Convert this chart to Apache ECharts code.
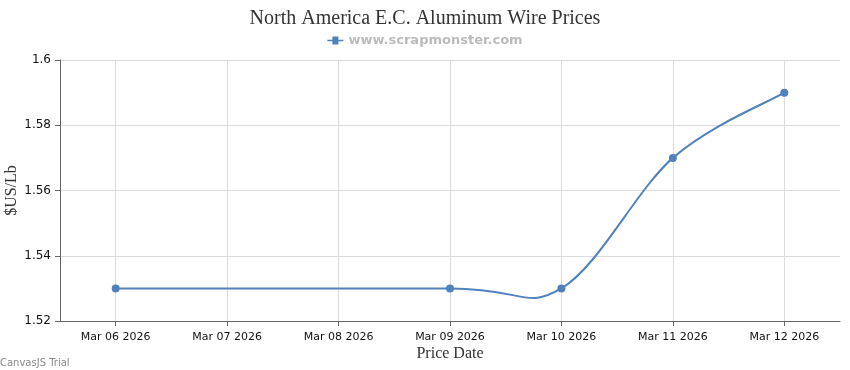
<!DOCTYPE html>
<html>
<head>
<meta charset="utf-8">
<script src="https://cdn.jsdelivr.net/npm/echarts@6/dist/echarts.min.js"></script>
<style>html,body{margin:0;padding:0;background:#fff}#c{width:850px;height:370px}</style>
</head>
<body>
<div id="c"></div>
<script>
var titleText = 'North America E.C. Aluminum Wire Prices';
var seriesName = 'www.scrapmonster.com';
var dates = ['2026-03-06', '2026-03-09', '2026-03-10', '2026-03-11', '2026-03-12'];
var prices = [1.53, 1.53, 1.53, 1.57, 1.59];
var axisStart = '2026-03-05T12:00:00';
var axisEnd = '2026-03-12T12:00:00';
var yMin = 1.52, yMax = 1.6, yStep = 0.02;
var monthNames = ['Jan','Feb','Mar','Apr','May','Jun','Jul','Aug','Sep','Oct','Nov','Dec'];

function parseLocal(s) {
  var p = s.split(/[-T:]/).map(Number);
  return new Date(p[0], p[1] - 1, p[2], p[3] || 0, p[4] || 0, p[5] || 0).getTime();
}
var points = dates.map(function (d, i) { return [parseLocal(d), prices[i]]; });
var DAY = 86400000;
var LINE_COLOR = '#4f81bc';
var GRID_COLOR = '#dcdcdc';
var TENSION = 2;

// spline segment from point i to i+1 (cardinal spline, computed in pixel space via the axis scales)
function renderSegment(params, api) {
  var i = params.dataIndex;
  var n = points.length;
  if (i >= n - 1) return null;
  var px = points.map(function (p) { return api.coord(p); });
  function drv(k) {
    var a = px[Math.max(k - 1, 0)], b = px[Math.min(k + 1, n - 1)];
    return [(b[0] - a[0]) / TENSION, (b[1] - a[1]) / TENSION];
  }
  var d1 = drv(i), d2 = drv(i + 1);
  var p1 = px[i], p2 = px[i + 1];
  return {
    type: 'bezierCurve',
    shape: {
      x1: p1[0], y1: p1[1],
      cpx1: p1[0] + d1[0] / 3, cpy1: p1[1] + d1[1] / 3,
      cpx2: p2[0] - d2[0] / 3, cpy2: p2[1] - d2[1] / 3,
      x2: p2[0], y2: p2[1]
    },
    style: {stroke: LINE_COLOR, lineWidth: 2, fill: null}
  };
}

// day lines in grey, the line at the right edge of the plot hidden
var xSplitColors = [GRID_COLOR, GRID_COLOR, GRID_COLOR, GRID_COLOR, GRID_COLOR, GRID_COLOR, GRID_COLOR, 'rgba(0,0,0,0)'];

var chart = echarts.init(document.getElementById('c'), null, {renderer: 'canvas'});
chart.setOption({
  animation: false,
  backgroundColor: '#ffffff',
  title: {
    text: titleText,
    left: 'center',
    top: 4,
    textStyle: {fontFamily: 'Liberation Serif, serif', fontSize: 20, fontWeight: 'normal', color: '#333'}
  },
  legend: {
    top: 29,
    left: 'center',
    itemWidth: 16,
    itemHeight: 8,
    itemGap: 5,
    icon: 'path://M0,3.2 L5,3.2 L5,0 L11,0 L11,3.2 L16,3.2 L16,4.8 L11,4.8 L11,8 L5,8 L5,4.8 L0,4.8 Z',
    textStyle: {fontFamily: 'DejaVu Sans, sans-serif', fontSize: 13, fontWeight: 'bold', color: '#bbbbbb'},
    data: [seriesName]
  },
  grid: {left: 60, right: 10, top: 60, bottom: 49, containLabel: false, outerBoundsMode: 'none'},
  xAxis: {
    type: 'time',
    min: parseLocal(axisStart),
    max: parseLocal(axisEnd),
    minInterval: DAY,
    maxInterval: DAY,
    name: 'Price Date',
    nameLocation: 'middle',
    nameGap: 25,
    nameMoveOverlap: false,
    nameTextStyle: {fontFamily: 'Liberation Serif, serif', fontSize: 16, color: '#333'},
    axisLine: {show: true, lineStyle: {color: '#666', width: 1}},
    axisTick: {show: true, length: 5, lineStyle: {color: '#666'}},
    splitLine: {show: true, showMinLine: false, showMaxLine: false, lineStyle: {color: xSplitColors, width: 1}},
    axisLabel: {
      fontFamily: 'DejaVu Sans, sans-serif', fontSize: 11, color: '#111', margin: 11,
      showMinLabel: false, showMaxLabel: false,
      formatter: function (v) {
        var d = new Date(v);
        var dd = d.getDate();
        return monthNames[d.getMonth()] + ' ' + (dd < 10 ? '0' + dd : dd) + ' ' + d.getFullYear();
      }
    }
  },
  yAxis: {
    type: 'value',
    min: yMin,
    max: yMax,
    interval: yStep,
    name: '$US/Lb',
    nameLocation: 'middle',
    nameGap: 40,
    nameMoveOverlap: false,
    nameTextStyle: {fontFamily: 'Liberation Serif, serif', fontSize: 16, color: '#333'},
    axisLine: {show: true, lineStyle: {color: '#666', width: 1}},
    axisTick: {show: true, length: 5, lineStyle: {color: '#666'}},
    splitLine: {show: true, lineStyle: {color: GRID_COLOR, width: 1}},
    axisLabel: {fontFamily: 'DejaVu Sans, sans-serif', fontSize: 12, color: '#111', margin: 9,
      formatter: function (v) { return String(Math.round(v * 100) / 100); }}
  },
  series: [{
    name: 'curve',
    type: 'custom',
    data: points,
    encode: {x: 0, y: 1},
    renderItem: renderSegment,
    z: 2,
    silent: true
  }, {
    name: seriesName,
    type: 'line',
    data: points,
    symbol: 'circle',
    symbolSize: 8,
    itemStyle: {color: LINE_COLOR},
    lineStyle: {width: 0, opacity: 0},
    z: 3
  }],
  graphic: [{
    type: 'text',
    left: 0,
    top: 358,
    style: {text: 'CanvasJS Trial', fontFamily: 'DejaVu Sans, sans-serif', fontSize: 10, fill: '#888'}
  }]
});
</script>
</body>
</html>
